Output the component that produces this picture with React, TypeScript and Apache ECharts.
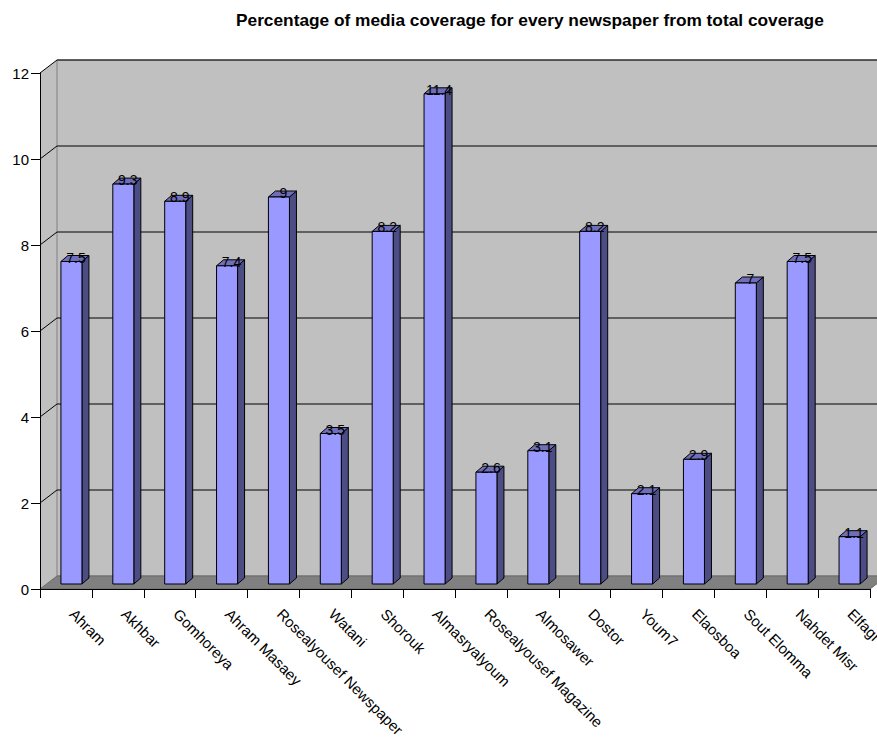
import React, { useEffect, useRef } from "react";
import * as echarts from "echarts";

const titleText = "Percentage of media coverage for every newspaper from total coverage";
const categories = [
  "Ahram", "Akhbar", "Gomhoreya", "Ahram Masaey", "Rosealyousef Newspaper", "Watani",
  "Shorouk", "Almasryalyoum", "Rosealyousef Magazine", "Almosawer", "Dostor", "Youm7",
  "Elaosboa", "Sout Elomma", "Nahdet Misr", "Elfagr",
];
const values = [7.5, 9.3, 8.9, 7.4, 9, 3.5, 8.2, 11.4, 2.6, 3.1, 8.2, 2.1, 2.9, 7, 7.5, 1.1];
const yTicks = [0, 2, 4, 6, 8, 10, 12];

const FONT = "Liberation Sans, Arial, sans-serif";
const DEPTH_X = 17;
const DEPTH_Y = -13;

export default function App() {
  const ref = useRef<HTMLDivElement>(null);
  useEffect(() => {
    if (!ref.current) return;
    const chart = echarts.init(ref.current, null, { renderer: "svg" });
    const last = categories.length - 1;
    const yMax = yTicks[yTicks.length - 1];

    const wallsRender = (params: any, api: any) => {
      const bw = api.size([1, 0])[0];
      const p0 = api.coord([0, 0]);
      const pl = api.coord([last, 0]);
      const x0 = p0[0] - bw / 2;
      const x1 = pl[0] + bw / 2;
      const yb = p0[1];
      const yt = api.coord([0, yMax])[1];
      const children: any[] = [];
      children.push({
        type: "polygon",
        shape: { points: [[x0, yt], [x0 + DEPTH_X, yt + DEPTH_Y], [x0 + DEPTH_X, yb + DEPTH_Y], [x0, yb]] },
        style: { fill: "#C0C0C0", stroke: null },
      });
      children.push({
        type: "rect",
        shape: { x: x0 + DEPTH_X, y: yt + DEPTH_Y, width: x1 - x0, height: yb - yt },
        style: { fill: "#C0C0C0", stroke: "#808080", lineWidth: 1 },
      });
      children.push({
        type: "polygon",
        shape: { points: [[x0, yb], [x0 + DEPTH_X, yb + DEPTH_Y], [x1 + DEPTH_X, yb + DEPTH_Y], [x1, yb]] },
        style: { fill: "#808080", stroke: "#6A6A6A", lineWidth: 1 },
      });
      yTicks.forEach((t) => {
        if (t === 0) return;
        const y = api.coord([0, t])[1];
        children.push({
          type: "polyline",
          shape: { points: [[x0, y], [x0 + DEPTH_X, y + DEPTH_Y], [x1 + DEPTH_X, y + DEPTH_Y]] },
          style: { fill: null, stroke: "#000000", lineWidth: 1 },
        });
      });
      return { type: "group", children };
    };

    const barRender = (params: any, api: any) => {
      const idx = api.value(0);
      const v = api.value(1);
      const bw = api.size([1, 0])[0];
      const top0 = api.coord([idx, v]);
      const base0 = api.coord([idx, 0]);
      const cx = top0[0] + bw * 0.106;
      const w = bw * 0.405;
      const xl = cx - w / 2;
      const xr = cx + w / 2;
      const top = top0[1] - 5;
      const bottom = base0[1] - 5;
      const sdx = 7;
      const sdy = -6;
      return {
        type: "group",
        children: [
          {
            type: "polygon",
            shape: { points: [[xr, top], [xr + sdx, top + sdy], [xr + sdx, bottom + sdy], [xr, bottom]] },
            style: { fill: "#4D4D85", stroke: "#000000", lineWidth: 1 },
          },
          {
            type: "polygon",
            shape: { points: [[xl, top], [xl + sdx, top + sdy], [xr + sdx, top + sdy], [xr, top]] },
            style: { fill: "#6E6EBA", stroke: "#000000", lineWidth: 1 },
          },
          {
            type: "rect",
            shape: { x: xl, y: top, width: w, height: bottom - top },
            style: { fill: "#9999FF", stroke: "#000000", lineWidth: 1 },
          },
          {
            type: "text",
            x: cx + 4.5,
            y: top - 4,
            style: {
              text: String(v),
              fill: "#000000",
              font: `14px ${FONT}`,
              align: "center",
              verticalAlign: "middle",
            },
          },
        ],
      };
    };

    chart.setOption({
      animation: false,
      backgroundColor: "#FFFFFF",
      title: {
        text: titleText,
        left: 231,
        top: 6,
        textStyle: { fontFamily: FONT, fontSize: 17.3, fontWeight: "bold", color: "#000000" },
      },
      grid: {
        left: 40,
        right: 7,
        top: 73,
        bottom: 153,
        containLabel: false,
        outerBoundsMode: "none",
      },
      xAxis: {
        type: "category",
        data: categories,
        axisLine: { show: true, lineStyle: { color: "#000000", width: 1 } },
        axisTick: { show: true, length: 9, alignWithLabel: false, lineStyle: { color: "#000000" } },
        axisLabel: {
          rotate: -45,
          interval: 0,
          margin: 16,
          padding: [0, 0, 0, 9],
          fontFamily: FONT,
          fontSize: 15,
          color: "#000000",
          hideOverlap: false,
        },
        splitLine: { show: false },
      },
      yAxis: {
        type: "value",
        min: 0,
        max: 12,
        interval: 2,
        axisLine: { show: true, lineStyle: { color: "#000000", width: 1 } },
        axisTick: { show: true, length: 9, lineStyle: { color: "#000000" } },
        axisLabel: { margin: 11, fontFamily: FONT, fontSize: 15, color: "#000000" },
        splitLine: { show: false },
      },
      series: [
        {
          type: "custom",
          renderItem: wallsRender,
          data: [[0, 0]],
          z: 0,
          silent: true,
        },
        {
          type: "custom",
          renderItem: barRender,
          data: values.map((v, i) => [i, v]),
          encode: { x: 0, y: 1 },
          z: 2,
        },
      ],
    });
    return () => chart.dispose();
  }, []);
  return <div ref={ref} style={{ position: "absolute", left: 0, top: 0, width: 877, height: 742 }} />;
}
